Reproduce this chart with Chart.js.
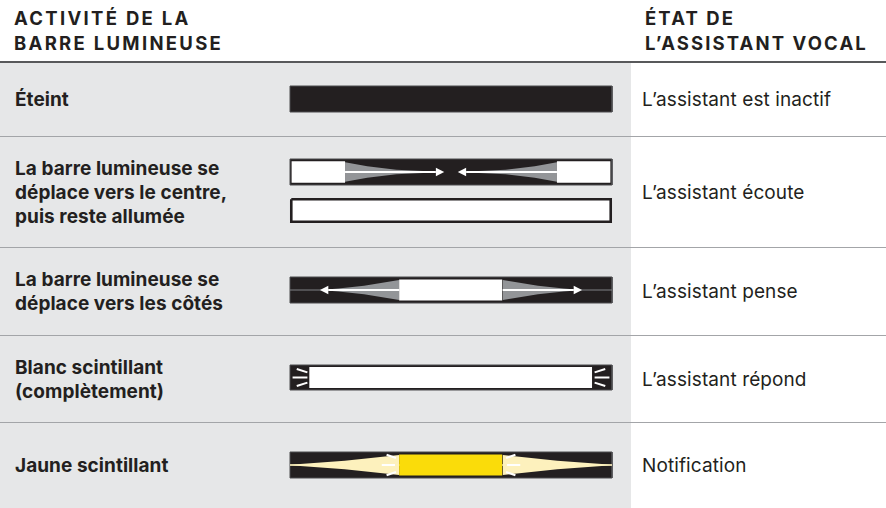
<!DOCTYPE html>
<html lang="fr">
<head>
<meta charset="utf-8">
<title>Barre lumineuse</title>
<script src="https://cdn.jsdelivr.net/npm/chart.js@4.4.1/dist/chart.umd.min.js"></script>
<style>
html, body { margin: 0; padding: 0; background: #fff; }
body { width: 886px; height: 508px; position: relative; overflow: hidden;
  font-family: Inter, "Open Sans", sans-serif; color: #231f20; }
#panel { position: absolute; left: 0; top: 63px; width: 631px; height: 445px; background: #e6e7e8; }
.rule { position: absolute; left: 0; width: 886px; }
.head { position: absolute; top: 6px; font-weight: 700; font-size: 18.5px; line-height: 25px; letter-spacing: 2.3px; white-space: nowrap; }
.cell { position: absolute; display: flex; align-items: center; font-size: 19px; line-height: 24px;
  padding-top: 2px; box-sizing: border-box; white-space: nowrap; }
.act { left: 15px; width: 270px; font-weight: 700; letter-spacing: 0.05px; }
.state { left: 642px; width: 244px; font-weight: 400; letter-spacing: 0.1px; }
canvas { position: absolute; left: 286px; }
</style>
</head>
<body>
<div id="panel"></div>
<div id="page"></div>
<script>
// Libellés
const headLeft = ['ACTIVITÉ DE LA', 'BARRE LUMINEUSE'];
const headRight = ['ÉTAT DE', 'L’ASSISTANT VOCAL'];
const activities = [
  ['Éteint'],
  ['La barre lumineuse se', 'déplace vers le centre,', 'puis reste allumée'],
  ['La barre lumineuse se', 'déplace vers les côtés'],
  ['Blanc scintillant', '(complètement)'],
  ['Jaune scintillant']
];
const states = ['L’assistant est inactif', 'L’assistant écoute', 'L’assistant pense', 'L’assistant répond', 'Notification'];

// Positions le long de la barre (0 = bord gauche, 100 = bord droit), épaisseur de -1 à 1
const barRange = [0, 100];
const listenBlock = [0.5, 17.1];
const listenTrail = [[17.1, 0.75], [24, 0.45], [33, 0.18], [43, 0.05], [46, 0]];
const listenArrow = [17.1, 45.3, 47.9];      // départ, base de la pointe, pointe
const thinkBlock = [33.9, 65.9];
const thinkTrail = [[33.9, 0.77], [23, 0.33], [15, 0.12], [9.3, 0]];
const thinkArrow = [33.9, 11.9, 9.3];
const flickerBlock = [6.0, 93.8];
const flickerRays = [[2.1, 0.68, 5.4, 0.41], [0.8, 0, 5.4, 0], [2.1, -0.68, 5.4, -0.41]];
const notifBlock = [33.9, 65.9];
const notifGlow = [[33.9, 0.77], [17, 0.32], [0, 0.02]];
const notifRays = [[30, 0.79, 32.9, 0.54], [28.5, 0, 32.6, 0], [30, -0.79, 32.9, -0.54]];

// Mise en page
const rowEdges = [62, 136, 247, 335, 422, 508];
const INK = '#231f20', EDGE = '#4d4d4f', GREY = '#939598', YELLOW = '#fadc0a', PALE = '#fdf1bd';

const page = document.getElementById('page');
function addDiv(cls, html, style) {
  const d = document.createElement('div');
  d.className = cls;
  d.innerHTML = html;
  Object.assign(d.style, style || {});
  page.appendChild(d);
  return d;
}

addDiv('head', headLeft.join('<br>'), { left: '14px' });
addDiv('head', headRight.join('<br>'), { left: '645px', letterSpacing: '2.1px' });
addDiv('rule', '', { top: '61px', height: '2px', background: '#58595b' });
rowEdges.slice(1, -1).forEach(y => addDiv('rule', '', { top: y + 'px', height: '1px', background: '#a3a5a8' }));

activities.forEach((lines, i) => {
  const style = { top: rowEdges[i] + 'px', height: (rowEdges[i + 1] - rowEdges[i]) + 'px' };
  addDiv('cell act', '<div>' + lines.join('<br>') + '</div>', style);
  addDiv('cell state', '<div>' + states[i] + '</div>', style);
});

// Formes
const flip = x => barRange[1] - x;
function rect(x0, x1, h) {
  return [{x: x0, y: h}, {x: x1, y: h}, {x: x1, y: -h}, {x: x0, y: -h}, {x: x0, y: h}];
}
function taper(profile, mirror) {
  const fx = mirror ? flip : (x => x);
  const up = profile.map(([x, h]) => ({x: fx(x), y: h}));
  const down = profile.slice().reverse().map(([x, h]) => ({x: fx(x), y: -h}));
  return up.concat(down);
}
function head(base, tip, h) {
  return [{x: base, y: h}, {x: tip, y: 0}, {x: base, y: -h}, {x: base, y: h}];
}
function shape(points, color, border, width) {
  return {
    data: points, showLine: true, fill: 'shape', tension: 0, pointRadius: 0, clip: false,
    backgroundColor: color, borderColor: border || 'rgba(0,0,0,0)', borderWidth: border ? width : 0,
    borderJoinStyle: 'miter'
  };
}
function stroke(points, color, width) {
  return {
    data: points, showLine: true, fill: false, tension: 0, pointRadius: 0, clip: false,
    borderColor: color, borderWidth: width, borderCapStyle: 'butt'
  };
}
function arrow(a, mirror) {
  const fx = mirror ? flip : (x => x);
  return [
    stroke([{x: fx(a[0]), y: 0}, {x: fx(a[1]), y: 0}], '#fff', 2),
    shape(head(fx(a[1]), fx(a[2]), 0.33), '#fff')
  ];
}
function rays(list, mirror) {
  const fx = mirror ? flip : (x => x);
  return list.map(r => stroke([{x: fx(r[0]), y: r[1]}, {x: fx(r[2]), y: r[3]}], '#fff', 2));
}
const darkBar = () => shape(rect(barRange[0], barRange[1], 1), INK, EDGE, 1);

const bars = [
  { top: 86, height: 26, layers: [darkBar()] },
  { top: 159, height: 26, layers: [
    darkBar(),
    shape(taper(listenTrail, false), GREY),
    shape(taper(listenTrail, true), GREY),
    shape(rect(listenBlock[0], listenBlock[1], 0.83), '#fff'),
    shape(rect(flip(listenBlock[1]), flip(listenBlock[0]), 0.83), '#fff'),
    ...arrow(listenArrow, false),
    ...arrow(listenArrow, true)
  ] },
  { top: 198, height: 25, layers: [shape(rect(0.4, 99.6, 0.9), '#fff', INK, 2.6)] },
  { top: 277, height: 26, layers: [
    darkBar(),
    stroke([{x: barRange[0], y: 0}, {x: barRange[1], y: 0}], '#808285', 1),
    shape(taper(thinkTrail, false), GREY),
    shape(taper(thinkTrail, true), GREY),
    ...arrow(thinkArrow, false),
    ...arrow(thinkArrow, true),
    shape(rect(thinkBlock[0], thinkBlock[1], 0.8), '#fff')
  ] },
  { top: 365, height: 25, layers: [
    darkBar(),
    shape(rect(flickerBlock[0], flickerBlock[1], 0.84), '#fff'),
    ...rays(flickerRays, false),
    ...rays(flickerRays, true)
  ] },
  { top: 452, height: 26, layers: [
    darkBar(),
    stroke([{x: barRange[0], y: 0}, {x: barRange[1], y: 0}], PALE, 1.5),
    shape(taper(notifGlow, false), PALE),
    shape(taper(notifGlow, true), PALE),
    shape(rect(notifBlock[0], notifBlock[1], 0.8), YELLOW),
    ...rays(notifRays, false),
    ...rays(notifRays, true)
  ] }
];

bars.forEach(bar => {
  const canvas = document.createElement('canvas');
  canvas.width = 330;
  canvas.height = bar.height + 8;
  canvas.style.top = (bar.top - 4) + 'px';
  document.body.appendChild(canvas);
  new Chart(canvas, {
    type: 'scatter',
    // Chart.js dessine le premier jeu au-dessus : on inverse l'ordre
    data: { datasets: bar.layers.slice().reverse() },
    options: {
      responsive: false,
      animation: false,
      events: [],
      layout: { padding: 4 },
      plugins: { legend: { display: false }, tooltip: { enabled: false } },
      scales: {
        x: { type: 'linear', min: barRange[0], max: barRange[1], display: false },
        y: { type: 'linear', min: -1, max: 1, display: false }
      }
    }
  });
});
</script>
</body>
</html>
